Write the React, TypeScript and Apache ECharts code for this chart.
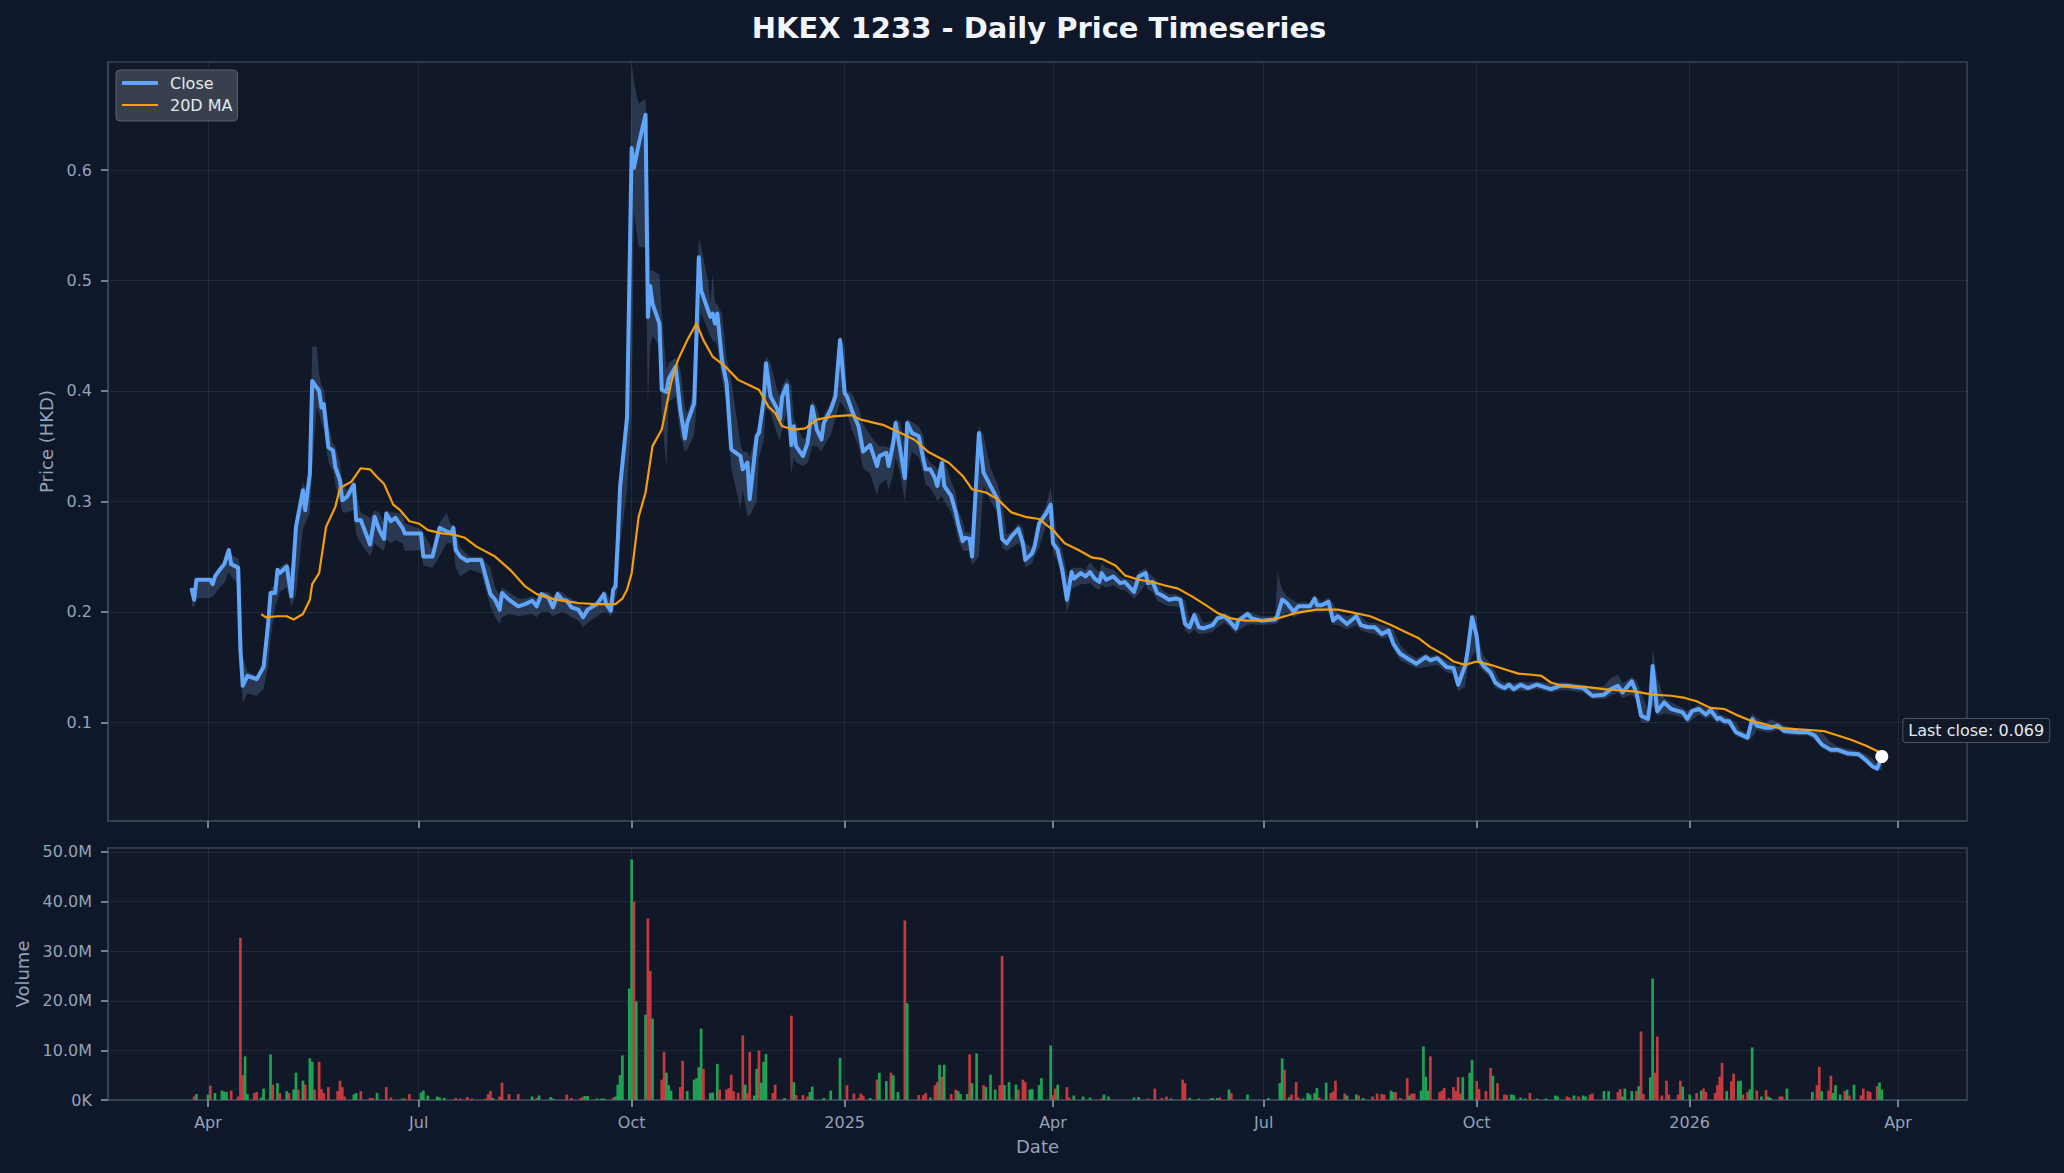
import React, { useEffect, useRef } from 'react';
import * as echarts from 'echarts';

// ---------- data ----------
// rows: [date, close, low, high]
type Row = [string, number, number, number];

const prices2024a: Row[] = [
  ['2024-03-25', 0.220, 0.206, 0.222], ['2024-03-26', 0.211, 0.204, 0.222], ['2024-03-27', 0.229, 0.212, 0.230],
  ['2024-04-02', 0.229, 0.213, 0.230], ['2024-04-03', 0.225, 0.214, 0.229], ['2024-04-04', 0.232, 0.216, 0.233],
  ['2024-04-06', 0.238, 0.222, 0.239], ['2024-04-08', 0.243, 0.226, 0.245], ['2024-04-10', 0.256, 0.236, 0.258],
  ['2024-04-11', 0.243, 0.232, 0.252], ['2024-04-14', 0.240, 0.225, 0.248], ['2024-04-15', 0.166, 0.150, 0.240],
  ['2024-04-16', 0.133, 0.118, 0.160], ['2024-04-18', 0.142, 0.126, 0.146], ['2024-04-22', 0.139, 0.124, 0.142],
  ['2024-04-25', 0.150, 0.130, 0.155], ['2024-04-27', 0.190, 0.150, 0.195], ['2024-04-28', 0.217, 0.175, 0.220],
  ['2024-04-30', 0.217, 0.205, 0.225], ['2024-05-01', 0.238, 0.210, 0.240], ['2024-05-02', 0.235, 0.218, 0.240],
  ['2024-05-05', 0.241, 0.222, 0.245], ['2024-05-07', 0.214, 0.205, 0.238], ['2024-05-09', 0.277, 0.215, 0.280],
  ['2024-05-12', 0.310, 0.275, 0.318], ['2024-05-13', 0.292, 0.280, 0.312], ['2024-05-15', 0.325, 0.290, 0.330],
  ['2024-05-16', 0.409, 0.330, 0.440], ['2024-05-18', 0.403, 0.385, 0.440], ['2024-05-19', 0.400, 0.380, 0.415],
  ['2024-05-20', 0.385, 0.370, 0.405], ['2024-05-21', 0.388, 0.365, 0.402], ['2024-05-23', 0.349, 0.335, 0.370],
  ['2024-05-25', 0.346, 0.328, 0.352], ['2024-05-26', 0.331, 0.315, 0.350], ['2024-05-28', 0.319, 0.300, 0.335],
  ['2024-05-29', 0.301, 0.290, 0.318], ['2024-05-31', 0.304, 0.290, 0.310], ['2024-06-03', 0.315, 0.292, 0.320],
  ['2024-06-04', 0.283, 0.270, 0.308], ['2024-06-06', 0.283, 0.262, 0.290], ['2024-06-10', 0.261, 0.250, 0.285],
  ['2024-06-12', 0.286, 0.262, 0.292], ['2024-06-14', 0.274, 0.258, 0.290], ['2024-06-16', 0.266, 0.255, 0.280],
  ['2024-06-17', 0.289, 0.265, 0.292], ['2024-06-19', 0.282, 0.262, 0.290], ['2024-06-21', 0.285, 0.265, 0.290],
  ['2024-06-24', 0.276, 0.262, 0.288], ['2024-06-25', 0.271, 0.255, 0.280], ['2024-07-02', 0.271, 0.256, 0.275],
  ['2024-07-03', 0.250, 0.242, 0.272], ['2024-07-07', 0.250, 0.240, 0.256], ['2024-07-10', 0.276, 0.250, 0.280],
  ['2024-07-13', 0.273, 0.262, 0.290], ['2024-07-15', 0.271, 0.262, 0.278], ['2024-07-16', 0.276, 0.258, 0.280],
  ['2024-07-17', 0.256, 0.240, 0.272], ['2024-07-19', 0.250, 0.232, 0.258], ['2024-07-22', 0.246, 0.236, 0.252],
  ['2024-07-23', 0.247, 0.238, 0.250], ['2024-07-28', 0.247, 0.235, 0.250], ['2024-08-01', 0.216, 0.205, 0.240],
  ['2024-08-03', 0.211, 0.195, 0.222], ['2024-08-05', 0.202, 0.189, 0.215], ['2024-08-06', 0.217, 0.195, 0.222],
  ['2024-08-09', 0.211, 0.198, 0.218], ['2024-08-13', 0.205, 0.196, 0.212], ['2024-08-16', 0.207, 0.197, 0.212],
  ['2024-08-19', 0.210, 0.198, 0.214], ['2024-08-21', 0.205, 0.195, 0.212], ['2024-08-23', 0.216, 0.200, 0.218],
  ['2024-08-26', 0.213, 0.200, 0.218], ['2024-08-28', 0.204, 0.196, 0.214], ['2024-08-30', 0.216, 0.198, 0.219],
  ['2024-09-01', 0.211, 0.200, 0.218], ['2024-09-03', 0.210, 0.198, 0.214], ['2024-09-05', 0.204, 0.195, 0.212],
  ['2024-09-08', 0.202, 0.192, 0.208], ['2024-09-10', 0.195, 0.186, 0.205], ['2024-09-12', 0.202, 0.190, 0.205],
  ['2024-09-16', 0.207, 0.196, 0.210], ['2024-09-19', 0.216, 0.200, 0.219], ['2024-09-20', 0.207, 0.200, 0.218],
  ['2024-09-22', 0.201, 0.196, 0.210], ['2024-09-23', 0.220, 0.200, 0.224], ['2024-09-24', 0.223, 0.212, 0.228],
  ['2024-09-25', 0.265, 0.220, 0.270], ['2024-09-26', 0.313, 0.260, 0.320], ['2024-09-29', 0.376, 0.310, 0.390],
];

const prices2024b: Row[] = [
  ['2024-10-01', 0.620, 0.380, 0.698], ['2024-10-02', 0.602, 0.560, 0.680], ['2024-10-04', 0.623, 0.530, 0.660],
  ['2024-10-07', 0.650, 0.530, 0.665], ['2024-10-08', 0.467, 0.386, 0.600], ['2024-10-09', 0.495, 0.440, 0.509],
  ['2024-10-10', 0.479, 0.450, 0.509], ['2024-10-13', 0.461, 0.440, 0.505], ['2024-10-14', 0.401, 0.380, 0.470],
  ['2024-10-16', 0.399, 0.330, 0.420], ['2024-10-17', 0.411, 0.390, 0.425], ['2024-10-20', 0.422, 0.395, 0.430],
  ['2024-10-22', 0.383, 0.360, 0.420], ['2024-10-24', 0.357, 0.345, 0.385], ['2024-10-25', 0.371, 0.347, 0.380],
  ['2024-10-28', 0.389, 0.360, 0.400], ['2024-10-29', 0.452, 0.385, 0.460], ['2024-10-30', 0.521, 0.450, 0.539],
  ['2024-10-31', 0.491, 0.470, 0.530], ['2024-11-03', 0.473, 0.455, 0.500], ['2024-11-04', 0.467, 0.450, 0.480],
  ['2024-11-05', 0.470, 0.445, 0.506], ['2024-11-06', 0.461, 0.445, 0.480], ['2024-11-07', 0.470, 0.440, 0.478],
  ['2024-11-09', 0.428, 0.410, 0.470], ['2024-11-11', 0.407, 0.390, 0.430], ['2024-11-13', 0.347, 0.330, 0.410],
  ['2024-11-17', 0.341, 0.293, 0.352], ['2024-11-18', 0.329, 0.310, 0.345], ['2024-11-20', 0.335, 0.287, 0.345],
  ['2024-11-21', 0.302, 0.287, 0.340], ['2024-11-24', 0.359, 0.300, 0.365], ['2024-11-25', 0.362, 0.340, 0.370],
  ['2024-11-27', 0.392, 0.355, 0.400], ['2024-11-28', 0.425, 0.385, 0.432], ['2024-11-30', 0.395, 0.380, 0.425],
  ['2024-12-03', 0.383, 0.360, 0.400], ['2024-12-04', 0.374, 0.355, 0.395], ['2024-12-05', 0.395, 0.365, 0.405],
  ['2024-12-07', 0.405, 0.380, 0.412], ['2024-12-09', 0.351, 0.325, 0.405], ['2024-12-10', 0.368, 0.340, 0.375],
  ['2024-12-11', 0.350, 0.335, 0.370], ['2024-12-14', 0.341, 0.332, 0.356], ['2024-12-16', 0.353, 0.335, 0.360],
  ['2024-12-18', 0.386, 0.350, 0.392], ['2024-12-20', 0.365, 0.350, 0.385], ['2024-12-22', 0.356, 0.345, 0.370],
  ['2024-12-23', 0.371, 0.350, 0.378], ['2024-12-26', 0.383, 0.360, 0.390], ['2024-12-28', 0.395, 0.375, 0.405],
  ['2024-12-30', 0.446, 0.390, 0.450], ['2025-01-01', 0.398, 0.385, 0.440], ['2025-01-02', 0.395, 0.380, 0.400],
  ['2025-01-04', 0.383, 0.365, 0.398], ['2025-01-07', 0.368, 0.350, 0.385], ['2025-01-09', 0.345, 0.330, 0.370],
  ['2025-01-12', 0.351, 0.325, 0.360], ['2025-01-15', 0.332, 0.305, 0.352], ['2025-01-16', 0.341, 0.315, 0.350],
  ['2025-01-19', 0.344, 0.320, 0.350], ['2025-01-20', 0.332, 0.310, 0.348], ['2025-01-22', 0.353, 0.325, 0.360],
  ['2025-01-23', 0.371, 0.340, 0.375], ['2025-01-25', 0.347, 0.325, 0.372], ['2025-01-27', 0.321, 0.300, 0.350],
  ['2025-01-28', 0.371, 0.320, 0.375], ['2025-01-30', 0.362, 0.345, 0.372], ['2025-02-02', 0.359, 0.340, 0.368],
  ['2025-02-04', 0.338, 0.325, 0.360], ['2025-02-05', 0.329, 0.315, 0.342], ['2025-02-07', 0.329, 0.312, 0.335],
  ['2025-02-09', 0.321, 0.305, 0.332], ['2025-02-10', 0.314, 0.300, 0.328], ['2025-02-12', 0.335, 0.305, 0.340],
  ['2025-02-13', 0.314, 0.300, 0.338], ['2025-02-16', 0.305, 0.290, 0.318], ['2025-02-18', 0.290, 0.275, 0.308],
  ['2025-02-19', 0.280, 0.265, 0.292], ['2025-02-21', 0.264, 0.256, 0.282], ['2025-02-22', 0.267, 0.255, 0.272],
  ['2025-02-24', 0.266, 0.255, 0.272], ['2025-02-25', 0.250, 0.242, 0.268], ['2025-02-28', 0.362, 0.250, 0.368],
  ['2025-03-02', 0.326, 0.315, 0.360], ['2025-03-05', 0.314, 0.300, 0.330], ['2025-03-08', 0.302, 0.290, 0.316],
  ['2025-03-10', 0.266, 0.258, 0.300],
];

const prices2025a: Row[] = [
  ['2025-03-12', 0.262, 0.255, 0.270], ['2025-03-14', 0.268, 0.258, 0.272], ['2025-03-17', 0.275, 0.262, 0.280],
  ['2025-03-19', 0.262, 0.255, 0.276], ['2025-03-20', 0.247, 0.240, 0.262], ['2025-03-23', 0.253, 0.244, 0.258],
  ['2025-03-24', 0.259, 0.250, 0.264], ['2025-03-26', 0.280, 0.258, 0.284], ['2025-03-29', 0.289, 0.278, 0.296],
  ['2025-03-31', 0.297, 0.285, 0.313], ['2025-04-01', 0.262, 0.255, 0.295], ['2025-04-03', 0.256, 0.245, 0.265],
  ['2025-04-05', 0.238, 0.228, 0.256], ['2025-04-07', 0.211, 0.200, 0.235], ['2025-04-08', 0.223, 0.205, 0.228],
  ['2025-04-09', 0.236, 0.220, 0.240], ['2025-04-10', 0.230, 0.222, 0.240], ['2025-04-13', 0.235, 0.225, 0.240],
  ['2025-04-15', 0.232, 0.225, 0.238], ['2025-04-17', 0.236, 0.226, 0.245], ['2025-04-19', 0.230, 0.222, 0.240],
  ['2025-04-21', 0.227, 0.220, 0.236], ['2025-04-22', 0.235, 0.224, 0.244], ['2025-04-24', 0.229, 0.222, 0.240],
  ['2025-04-27', 0.232, 0.224, 0.238], ['2025-04-30', 0.226, 0.220, 0.232], ['2025-05-02', 0.227, 0.220, 0.230],
  ['2025-05-06', 0.218, 0.212, 0.228], ['2025-05-08', 0.232, 0.216, 0.236], ['2025-05-11', 0.235, 0.225, 0.240],
  ['2025-05-12', 0.226, 0.220, 0.236], ['2025-05-14', 0.227, 0.218, 0.232], ['2025-05-16', 0.217, 0.210, 0.228],
  ['2025-05-18', 0.215, 0.208, 0.220], ['2025-05-21', 0.211, 0.205, 0.216], ['2025-05-24', 0.212, 0.205, 0.216],
  ['2025-05-26', 0.211, 0.204, 0.214], ['2025-05-28', 0.189, 0.183, 0.210], ['2025-05-30', 0.186, 0.180, 0.192],
  ['2025-06-01', 0.197, 0.184, 0.200], ['2025-06-03', 0.186, 0.180, 0.198], ['2025-06-05', 0.185, 0.180, 0.190],
  ['2025-06-09', 0.188, 0.182, 0.192], ['2025-06-11', 0.194, 0.186, 0.197], ['2025-06-14', 0.196, 0.190, 0.199],
  ['2025-06-16', 0.192, 0.187, 0.197], ['2025-06-19', 0.185, 0.180, 0.193], ['2025-06-20', 0.192, 0.183, 0.195],
  ['2025-06-24', 0.198, 0.188, 0.201], ['2025-06-26', 0.194, 0.189, 0.199], ['2025-06-30', 0.192, 0.188, 0.196],
  ['2025-07-06', 0.193, 0.189, 0.196], ['2025-07-07', 0.197, 0.190, 0.236], ['2025-07-09', 0.211, 0.195, 0.220],
  ['2025-07-11', 0.208, 0.200, 0.214], ['2025-07-14', 0.200, 0.195, 0.210], ['2025-07-16', 0.205, 0.197, 0.208],
  ['2025-07-18', 0.205, 0.199, 0.209], ['2025-07-21', 0.205, 0.200, 0.208], ['2025-07-23', 0.212, 0.202, 0.215],
  ['2025-07-24', 0.206, 0.200, 0.213], ['2025-07-26', 0.206, 0.200, 0.209], ['2025-07-29', 0.209, 0.202, 0.213],
  ['2025-07-31', 0.192, 0.188, 0.208], ['2025-08-02', 0.196, 0.188, 0.199], ['2025-08-06', 0.189, 0.184, 0.196],
  ['2025-08-10', 0.196, 0.188, 0.199], ['2025-08-12', 0.188, 0.183, 0.196], ['2025-08-15', 0.186, 0.181, 0.190],
  ['2025-08-18', 0.186, 0.180, 0.190], ['2025-08-21', 0.180, 0.176, 0.188], ['2025-08-24', 0.183, 0.177, 0.186],
  ['2025-08-26', 0.171, 0.166, 0.184], ['2025-08-29', 0.162, 0.156, 0.170], ['2025-09-01', 0.158, 0.153, 0.163],
  ['2025-09-05', 0.153, 0.149, 0.158], ['2025-09-09', 0.159, 0.150, 0.162], ['2025-09-11', 0.156, 0.151, 0.160],
  ['2025-09-14', 0.158, 0.152, 0.161], ['2025-09-18', 0.150, 0.145, 0.156], ['2025-09-21', 0.149, 0.144, 0.153],
  ['2025-09-23', 0.134, 0.128, 0.150], ['2025-09-26', 0.151, 0.132, 0.155], ['2025-09-27', 0.163, 0.148, 0.167],
  ['2025-09-29', 0.195, 0.160, 0.198],
];

const prices2025b: Row[] = [
  ['2025-10-01', 0.178, 0.165, 0.196], ['2025-10-02', 0.157, 0.150, 0.175], ['2025-10-04', 0.151, 0.146, 0.160],
  ['2025-10-07', 0.145, 0.140, 0.153], ['2025-10-09', 0.136, 0.131, 0.146], ['2025-10-11', 0.133, 0.129, 0.138],
  ['2025-10-13', 0.131, 0.128, 0.136], ['2025-10-15', 0.134, 0.129, 0.137], ['2025-10-17', 0.130, 0.127, 0.135],
  ['2025-10-20', 0.134, 0.129, 0.137], ['2025-10-23', 0.131, 0.128, 0.136], ['2025-10-27', 0.134, 0.130, 0.137],
  ['2025-11-02', 0.130, 0.127, 0.135], ['2025-11-06', 0.133, 0.129, 0.136], ['2025-11-09', 0.133, 0.129, 0.136],
  ['2025-11-16', 0.131, 0.127, 0.134], ['2025-11-20', 0.124, 0.121, 0.131], ['2025-11-25', 0.125, 0.121, 0.133],
  ['2025-11-28', 0.130, 0.124, 0.140], ['2025-12-01', 0.133, 0.127, 0.143], ['2025-12-03', 0.127, 0.122, 0.135],
  ['2025-12-07', 0.137, 0.125, 0.141], ['2025-12-09', 0.127, 0.120, 0.138], ['2025-12-11', 0.106, 0.100, 0.128],
  ['2025-12-14', 0.103, 0.099, 0.110], ['2025-12-15', 0.119, 0.102, 0.122], ['2025-12-16', 0.151, 0.115, 0.167],
  ['2025-12-18', 0.110, 0.106, 0.140], ['2025-12-21', 0.118, 0.108, 0.122], ['2025-12-24', 0.112, 0.107, 0.118],
  ['2025-12-29', 0.109, 0.104, 0.113], ['2025-12-31', 0.103, 0.099, 0.110], ['2026-01-02', 0.110, 0.102, 0.113],
  ['2026-01-05', 0.112, 0.107, 0.116], ['2026-01-08', 0.107, 0.103, 0.113], ['2026-01-10', 0.111, 0.105, 0.114],
  ['2026-01-13', 0.103, 0.099, 0.111], ['2026-01-14', 0.104, 0.100, 0.107], ['2026-01-16', 0.101, 0.097, 0.106],
  ['2026-01-18', 0.101, 0.097, 0.104], ['2026-01-21', 0.091, 0.087, 0.100], ['2026-01-23', 0.089, 0.086, 0.093],
  ['2026-01-26', 0.086, 0.083, 0.090], ['2026-01-28', 0.103, 0.086, 0.108], ['2026-01-30', 0.097, 0.093, 0.104],
  ['2026-02-03', 0.095, 0.091, 0.099], ['2026-02-05', 0.095, 0.091, 0.103], ['2026-02-08', 0.097, 0.093, 0.100],
  ['2026-02-11', 0.092, 0.089, 0.097], ['2026-02-17', 0.091, 0.088, 0.094], ['2026-02-21', 0.091, 0.088, 0.094],
  ['2026-02-24', 0.088, 0.084, 0.092], ['2026-02-27', 0.080, 0.077, 0.091], ['2026-03-03', 0.075, 0.072, 0.082],
  ['2026-03-06', 0.075, 0.072, 0.078], ['2026-03-10', 0.072, 0.069, 0.076], ['2026-03-15', 0.071, 0.068, 0.074],
  ['2026-03-18', 0.066, 0.063, 0.071], ['2026-03-21', 0.060, 0.058, 0.067], ['2026-03-23', 0.058, 0.056, 0.062],
  ['2026-03-25', 0.069, 0.057, 0.071],
];

// 20-day moving average as drawn
const ma20: [string, number][] = [
  ['2024-04-24', 0.198], ['2024-04-26', 0.195], ['2024-05-01', 0.196], ['2024-05-05', 0.196], ['2024-05-08', 0.193],
  ['2024-05-12', 0.198], ['2024-05-15', 0.211], ['2024-05-16', 0.225], ['2024-05-19', 0.235], ['2024-05-22', 0.277],
  ['2024-05-26', 0.295], ['2024-05-28', 0.312], ['2024-06-02', 0.318], ['2024-06-06', 0.330], ['2024-06-10', 0.329],
  ['2024-06-13', 0.322], ['2024-06-16', 0.316], ['2024-06-20', 0.297], ['2024-06-23', 0.292], ['2024-06-27', 0.282],
  ['2024-07-01', 0.280], ['2024-07-05', 0.274], ['2024-07-11', 0.271], ['2024-07-16', 0.270], ['2024-07-21', 0.267],
  ['2024-07-26', 0.259], ['2024-08-03', 0.250], ['2024-08-10', 0.237], ['2024-08-16', 0.223], ['2024-08-21', 0.216],
  ['2024-08-29', 0.211], ['2024-09-08', 0.208], ['2024-09-15', 0.207], ['2024-09-24', 0.207], ['2024-09-27', 0.212],
  ['2024-09-29', 0.220], ['2024-10-01', 0.235], ['2024-10-04', 0.286], ['2024-10-07', 0.308], ['2024-10-10', 0.350],
  ['2024-10-14', 0.365], ['2024-10-18', 0.407], ['2024-10-21', 0.428], ['2024-10-25', 0.446], ['2024-10-29', 0.461],
  ['2024-11-01', 0.446], ['2024-11-05', 0.431], ['2024-11-10', 0.423], ['2024-11-16', 0.410], ['2024-11-22', 0.404],
  ['2024-11-25', 0.401], ['2024-11-29', 0.386], ['2024-12-02', 0.380], ['2024-12-05', 0.368], ['2024-12-10', 0.365],
  ['2024-12-15', 0.366], ['2024-12-20', 0.374], ['2024-12-27', 0.377], ['2025-01-04', 0.378], ['2025-01-08', 0.374],
  ['2025-01-18', 0.369], ['2025-01-24', 0.363], ['2025-01-31', 0.356], ['2025-02-06', 0.345], ['2025-02-15', 0.335],
  ['2025-02-21', 0.323], ['2025-02-25', 0.311], ['2025-03-03', 0.308], ['2025-03-08', 0.302], ['2025-03-14', 0.290],
  ['2025-03-20', 0.286], ['2025-03-26', 0.284], ['2025-04-01', 0.274], ['2025-04-06', 0.262], ['2025-04-12', 0.256],
  ['2025-04-18', 0.249], ['2025-04-22', 0.248], ['2025-04-28', 0.242], ['2025-05-02', 0.233], ['2025-05-08', 0.229],
  ['2025-05-14', 0.227], ['2025-05-19', 0.224], ['2025-05-25', 0.221], ['2025-05-31', 0.214], ['2025-06-06', 0.206],
  ['2025-06-11', 0.199], ['2025-06-17', 0.194], ['2025-06-23', 0.192], ['2025-07-01', 0.192], ['2025-07-07', 0.194],
  ['2025-07-15', 0.199], ['2025-07-24', 0.202], ['2025-08-02', 0.202], ['2025-08-07', 0.200], ['2025-08-16', 0.196],
  ['2025-08-25', 0.188], ['2025-08-31', 0.182], ['2025-09-06', 0.176], ['2025-09-11', 0.168], ['2025-09-17', 0.161],
  ['2025-09-21', 0.155], ['2025-09-26', 0.152], ['2025-10-01', 0.155], ['2025-10-07', 0.152], ['2025-10-13', 0.148],
  ['2025-10-19', 0.144], ['2025-10-25', 0.143], ['2025-10-29', 0.142], ['2025-11-02', 0.136], ['2025-11-07', 0.133],
  ['2025-11-17', 0.132], ['2025-11-25', 0.130], ['2025-12-01', 0.129], ['2025-12-08', 0.128], ['2025-12-16', 0.125],
  ['2025-12-24', 0.124], ['2025-12-30', 0.122], ['2026-01-04', 0.119], ['2026-01-10', 0.113], ['2026-01-16', 0.112],
  ['2026-01-22', 0.106], ['2026-01-28', 0.101], ['2026-02-03', 0.098], ['2026-02-08', 0.095], ['2026-02-14', 0.094],
  ['2026-02-22', 0.093], ['2026-02-28', 0.092], ['2026-03-06', 0.088], ['2026-03-12', 0.084], ['2026-03-18', 0.079],
  ['2026-03-25', 0.072],
];

// volume rows: [date, volume in millions, direction (1 up / -1 down)]
type VRow = [string, number, number];
const volumes2024: VRow[] = [
  ['2024-03-26', 0.7, -1], ['2024-03-27', 1.2, 1], ['2024-04-01', 1.1, 1], ['2024-04-02', 2.9, -1], ['2024-04-04', 1.4, 1],
  ['2024-04-07', 1.9, 1], ['2024-04-08', 1.7, 1], ['2024-04-09', 1.6, 1], ['2024-04-11', 1.9, -1], ['2024-04-14', 0.7, -1],
  ['2024-04-15', 32.7, -1], ['2024-04-16', 5.0, -1], ['2024-04-17', 8.8, 1], ['2024-04-18', 1.2, 1], ['2024-04-21', 1.4, -1],
  ['2024-04-22', 1.6, -1], ['2024-04-24', 0.5, 1], ['2024-04-25', 2.3, 1], ['2024-04-28', 9.2, 1], ['2024-04-29', 3.1, -1],
  ['2024-05-01', 3.4, 1], ['2024-05-02', 1.4, -1], ['2024-05-05', 1.8, 1], ['2024-05-06', 1.4, -1], ['2024-05-08', 2.1, 1],
  ['2024-05-09', 5.5, 1], ['2024-05-10', 2.1, -1], ['2024-05-12', 3.9, 1], ['2024-05-13', 3.1, -1], ['2024-05-15', 8.4, 1],
  ['2024-05-16', 7.7, 1], ['2024-05-17', 2.1, -1], ['2024-05-19', 7.7, -1], ['2024-05-20', 2.2, -1], ['2024-05-21', 1.4, -1],
  ['2024-05-23', 2.6, -1], ['2024-05-27', 1.8, -1], ['2024-05-28', 3.9, -1], ['2024-05-29', 2.6, -1], ['2024-05-30', 0.7, -1],
  ['2024-06-03', 1.1, 1], ['2024-06-04', 1.4, 1], ['2024-06-06', 1.8, -1], ['2024-06-10', 0.4, -1], ['2024-06-11', 0.4, -1],
  ['2024-06-13', 1.4, 1], ['2024-06-17', 2.6, -1], ['2024-06-19', 0.5, -1], ['2024-06-24', 0.3, 1], ['2024-06-25', 0.3, -1],
  ['2024-06-27', 1.2, -1], ['2024-07-02', 1.5, 1], ['2024-07-03', 1.9, 1], ['2024-07-05', 0.9, 1], ['2024-07-09', 0.7, 1],
  ['2024-07-10', 0.5, 1], ['2024-07-12', 0.4, 1], ['2024-07-17', 0.4, -1], ['2024-07-19', 0.3, -1], ['2024-07-22', 0.6, -1],
  ['2024-07-24', 0.3, -1], ['2024-07-30', 0.3, -1], ['2024-07-31', 1.2, -1], ['2024-08-01', 1.8, -1], ['2024-08-02', 0.4, 1],
  ['2024-08-05', 0.7, -1], ['2024-08-06', 3.5, -1], ['2024-08-09', 1.2, -1], ['2024-08-13', 1.2, -1], ['2024-08-19', 0.7, 1],
  ['2024-08-21', 0.4, -1], ['2024-08-22', 0.9, 1], ['2024-08-27', 0.6, 1], ['2024-08-28', 0.3, 1], ['2024-09-03', 1.1, -1],
  ['2024-09-05', 0.4, -1], ['2024-09-09', 0.4, -1], ['2024-09-10', 0.7, -1], ['2024-09-11', 0.8, 1], ['2024-09-12', 0.8, 1],
  ['2024-09-16', 0.3, 1], ['2024-09-18', 0.3, 1], ['2024-09-19', 0.3, 1], ['2024-09-23', 0.5, -1], ['2024-09-24', 0.7, 1],
  ['2024-09-25', 3.1, 1], ['2024-09-26', 5.0, 1], ['2024-09-27', 9.0, 1], ['2024-09-30', 22.5, 1], ['2024-10-01', 48.5, 1],
  ['2024-10-02', 40.0, -1], ['2024-10-03', 19.9, 1], ['2024-10-07', 17.2, 1], ['2024-10-08', 36.6, -1], ['2024-10-09', 26.0, -1],
  ['2024-10-10', 16.4, 1], ['2024-10-14', 4.1, -1], ['2024-10-15', 9.7, -1], ['2024-10-16', 5.5, 1], ['2024-10-17', 3.0, 1],
  ['2024-10-18', 1.9, 1], ['2024-10-22', 2.6, -1], ['2024-10-23', 7.9, -1], ['2024-10-25', 1.8, 1], ['2024-10-28', 4.1, 1],
  ['2024-10-29', 4.4, 1], ['2024-10-30', 6.6, 1], ['2024-10-31', 14.4, 1], ['2024-11-01', 6.3, -1], ['2024-11-04', 1.4, 1],
  ['2024-11-05', 1.5, 1], ['2024-11-07', 7.3, 1], ['2024-11-08', 2.1, -1], ['2024-11-11', 2.1, -1], ['2024-11-12', 2.4, -1],
  ['2024-11-13', 5.1, -1], ['2024-11-14', 1.8, -1], ['2024-11-16', 1.4, -1], ['2024-11-18', 13.0, -1], ['2024-11-19', 3.1, 1],
  ['2024-11-20', 1.4, -1], ['2024-11-21', 9.7, -1], ['2024-11-23', 0.9, 1], ['2024-11-24', 6.3, 1], ['2024-11-25', 10.0, -1],
  ['2024-11-26', 3.5, 1], ['2024-11-27', 7.7, 1], ['2024-11-28', 9.3, 1], ['2024-12-01', 1.4, -1], ['2024-12-02', 3.1, -1],
  ['2024-12-06', 0.4, 1], ['2024-12-09', 17.0, -1], ['2024-12-10', 3.6, 1], ['2024-12-11', 1.0, -1], ['2024-12-14', 1.0, -1],
  ['2024-12-16', 0.7, -1], ['2024-12-17', 1.6, 1], ['2024-12-18', 2.7, 1], ['2024-12-23', 0.4, 1], ['2024-12-26', 1.9, 1],
  ['2024-12-30', 8.5, 1],
];

const volumes2025: VRow[] = [
  ['2025-01-02', 3.0, -1], ['2025-01-05', 1.3, -1], ['2025-01-07', 0.4, -1], ['2025-01-08', 1.3, -1], ['2025-01-09', 0.9, -1],
  ['2025-01-12', 0.4, 1], ['2025-01-15', 4.1, -1], ['2025-01-16', 5.5, 1], ['2025-01-19', 3.8, 1], ['2025-01-21', 5.5, -1],
  ['2025-01-22', 5.0, 1], ['2025-01-24', 1.6, 1], ['2025-01-27', 36.2, -1], ['2025-01-28', 19.5, 1], ['2025-02-02', 1.0, -1],
  ['2025-02-04', 1.0, -1], ['2025-02-05', 1.4, -1], ['2025-02-07', 0.5, 1], ['2025-02-09', 3.0, -1], ['2025-02-10', 3.6, -1],
  ['2025-02-11', 7.1, 1], ['2025-02-12', 4.7, -1], ['2025-02-13', 7.1, 1], ['2025-02-16', 1.2, -1], ['2025-02-18', 2.1, -1],
  ['2025-02-19', 1.8, 1], ['2025-02-20', 1.2, 1], ['2025-02-23', 1.2, 1], ['2025-02-24', 9.2, -1], ['2025-02-25', 3.4, 1],
  ['2025-02-27', 9.4, 1], ['2025-03-02', 3.0, -1], ['2025-03-03', 2.6, 1], ['2025-03-05', 5.1, 1], ['2025-03-07', 2.1, 1],
  ['2025-03-09', 3.0, -1], ['2025-03-10', 29.0, -1], ['2025-03-11', 3.0, 1], ['2025-03-13', 3.6, 1], ['2025-03-16', 3.1, 1],
  ['2025-03-17', 2.1, -1], ['2025-03-19', 4.1, -1], ['2025-03-20', 3.6, -1], ['2025-03-22', 2.1, 1], ['2025-03-23', 2.2, 1],
  ['2025-03-26', 3.0, 1], ['2025-03-27', 4.4, 1], ['2025-03-31', 11.0, 1], ['2025-04-01', 1.0, -1], ['2025-04-02', 2.3, -1],
  ['2025-04-03', 3.1, 1], ['2025-04-07', 2.6, -1], ['2025-04-08', 0.5, -1], ['2025-04-10', 0.9, 1], ['2025-04-14', 0.7, 1],
  ['2025-04-17', 0.5, 1], ['2025-04-22', 0.3, -1], ['2025-04-23', 1.1, 1], ['2025-04-25', 0.7, 1], ['2025-05-06', 0.5, 1],
  ['2025-05-08', 0.6, 1], ['2025-05-12', 0.3, -1], ['2025-05-15', 2.3, -1], ['2025-05-18', 0.4, -1], ['2025-05-20', 0.7, -1],
  ['2025-05-22', 0.3, 1], ['2025-05-27', 4.1, -1], ['2025-05-28', 3.4, -1], ['2025-05-30', 0.4, 1], ['2025-06-03', 0.3, 1],
  ['2025-06-08', 0.3, 1], ['2025-06-09', 0.4, 1], ['2025-06-11', 0.4, 1], ['2025-06-12', 0.5, -1], ['2025-06-16', 2.1, 1],
  ['2025-06-17', 1.4, -1], ['2025-06-24', 1.1, 1], ['2025-07-03', 0.4, 1], ['2025-07-08', 3.4, 1], ['2025-07-09', 8.4, 1],
  ['2025-07-10', 6.1, -1], ['2025-07-12', 0.5, 1], ['2025-07-13', 1.1, -1], ['2025-07-15', 3.6, -1], ['2025-07-16', 0.5, -1],
  ['2025-07-18', 0.3, 1], ['2025-07-20', 1.4, 1], ['2025-07-21', 1.1, 1], ['2025-07-23', 1.4, 1], ['2025-07-24', 2.4, 1],
  ['2025-07-25', 0.5, -1], ['2025-07-28', 3.5, 1], ['2025-07-30', 1.4, -1], ['2025-07-31', 1.7, -1], ['2025-08-01', 3.9, -1],
  ['2025-08-05', 1.3, -1], ['2025-08-06', 0.9, 1], ['2025-08-10', 1.1, 1], ['2025-08-11', 0.9, -1], ['2025-08-13', 0.4, 1],
  ['2025-08-17', 0.7, -1], ['2025-08-19', 1.3, -1], ['2025-08-21', 1.2, -1], ['2025-08-22', 1.1, -1], ['2025-08-25', 1.9, 1],
  ['2025-08-26', 1.6, 1], ['2025-08-27', 1.6, -1], ['2025-08-29', 0.4, -1], ['2025-09-01', 4.4, -1], ['2025-09-02', 0.9, 1],
  ['2025-09-03', 1.3, -1], ['2025-09-04', 1.3, -1], ['2025-09-07', 1.9, 1], ['2025-09-08', 10.8, 1], ['2025-09-09', 4.7, 1],
  ['2025-09-10', 1.9, 1], ['2025-09-11', 8.8, -1], ['2025-09-15', 1.6, -1], ['2025-09-16', 1.9, -1], ['2025-09-17', 2.4, -1],
  ['2025-09-19', 0.4, -1], ['2025-09-21', 2.6, -1], ['2025-09-22', 1.8, -1], ['2025-09-23', 4.6, -1], ['2025-09-24', 1.3, -1],
  ['2025-09-25', 4.6, 1], ['2025-09-28', 5.5, 1], ['2025-09-29', 8.1, 1], ['2025-10-01', 3.8, -1], ['2025-10-02', 2.2, -1],
  ['2025-10-05', 1.8, -1], ['2025-10-07', 6.5, -1], ['2025-10-08', 4.9, 1], ['2025-10-10', 3.4, -1], ['2025-10-13', 1.1, -1],
  ['2025-10-14', 1.0, -1], ['2025-10-16', 1.1, 1], ['2025-10-17', 1.0, 1], ['2025-10-20', 0.5, 1], ['2025-10-22', 0.3, 1],
  ['2025-10-24', 1.4, -1], ['2025-10-27', 0.3, 1], ['2025-10-31', 0.3, 1], ['2025-11-04', 0.9, 1], ['2025-11-05', 0.7, 1],
  ['2025-11-09', 0.7, -1], ['2025-11-10', 0.5, -1], ['2025-11-12', 0.9, 1], ['2025-11-14', 0.7, -1], ['2025-11-16', 0.9, 1],
  ['2025-11-17', 0.7, 1], ['2025-11-19', 1.1, -1], ['2025-11-20', 1.3, -1], ['2025-11-25', 1.8, 1], ['2025-11-27', 1.8, 1],
  ['2025-12-01', 1.6, -1], ['2025-12-02', 2.2, -1], ['2025-12-03', 0.7, 1], ['2025-12-04', 2.3, 1], ['2025-12-07', 1.8, 1],
  ['2025-12-09', 1.8, -1], ['2025-12-10', 2.8, 1], ['2025-12-11', 13.8, -1], ['2025-12-12', 1.2, -1], ['2025-12-15', 4.6, 1],
  ['2025-12-16', 24.5, 1], ['2025-12-17', 5.5, -1], ['2025-12-18', 12.8, -1], ['2025-12-20', 0.9, -1], ['2025-12-22', 3.9, -1],
  ['2025-12-23', 1.1, -1], ['2025-12-27', 1.1, -1], ['2025-12-28', 3.9, -1], ['2025-12-29', 2.7, 1],
];

const volumes2026: VRow[] = [
  ['2026-01-01', 1.1, 1], ['2026-01-04', 1.4, -1], ['2026-01-06', 1.9, 1], ['2026-01-07', 2.3, -1], ['2026-01-08', 1.6, -1],
  ['2026-01-12', 1.4, -1], ['2026-01-13', 3.0, -1], ['2026-01-14', 4.7, -1], ['2026-01-15', 7.5, -1], ['2026-01-17', 1.8, 1],
  ['2026-01-19', 3.8, -1], ['2026-01-20', 5.3, -1], ['2026-01-22', 3.8, 1], ['2026-01-23', 3.9, 1], ['2026-01-24', 1.1, -1],
  ['2026-01-26', 1.6, -1], ['2026-01-27', 2.1, 1], ['2026-01-28', 10.6, 1], ['2026-01-30', 1.9, -1], ['2026-02-01', 0.7, 1],
  ['2026-02-03', 2.0, -1], ['2026-02-04', 0.7, 1], ['2026-02-05', 0.4, 1], ['2026-02-09', 0.7, -1], ['2026-02-10', 0.7, -1],
  ['2026-02-12', 2.3, 1], ['2026-02-23', 1.6, 1], ['2026-02-25', 3.0, -1], ['2026-02-26', 6.7, -1], ['2026-02-27', 1.8, 1],
  ['2026-03-02', 1.9, -1], ['2026-03-03', 4.9, -1], ['2026-03-04', 1.4, 1], ['2026-03-05', 3.0, 1], ['2026-03-07', 1.1, 1],
  ['2026-03-09', 1.8, -1], ['2026-03-10', 2.1, 1], ['2026-03-11', 0.9, -1], ['2026-03-13', 3.1, 1], ['2026-03-16', 0.9, -1],
  ['2026-03-17', 2.3, -1], ['2026-03-19', 1.8, -1], ['2026-03-20', 1.6, -1], ['2026-03-23', 2.8, -1], ['2026-03-24', 3.5, 1],
  ['2026-03-25', 2.1, 1],
];

const priceTicks = [0.1, 0.2, 0.3, 0.4, 0.5, 0.6];
const volumeTicks = [0, 10, 20, 30, 40, 50];
const dateTicks = [
  '2024-04-01', '2024-07-01', '2024-10-01', '2025-01-01', '2025-04-01',
  '2025-07-01', '2025-10-01', '2026-01-01', '2026-04-01',
];
const MONTHS = ['Jan', 'Feb', 'Mar', 'Apr', 'May', 'Jun', 'Jul', 'Aug', 'Sep', 'Oct', 'Nov', 'Dec'];

const TITLE = 'HKEX 1233 - Daily Price Timeseries';
const LAST_LABEL = 'Last close: 0.069';

// ---------- styling ----------
const FONT = 'DejaVu Sans';
const FIG_BG = '#0f172a';
const AX_BG = '#111827';
const SPINE = '#3a4456';
const TICK = '#94a3b8';
const GRIDLINE = 'rgba(148,163,184,0.12)';
const BLUE = '#60a5fa';
const ORANGE = '#f59e0b';
const GREEN = '#1fa253';
const RED = '#c33b3e';

const DAY = 86400000;
const ts = (s: string) => new Date(s + 'T00:00:00').getTime();

export default function App() {
  const ref = useRef<HTMLDivElement>(null);

  useEffect(() => {
    if (!ref.current) return;
    const chart = echarts.init(ref.current, null, { renderer: 'svg' });

    const rows = [...prices2024a, ...prices2024b, ...prices2025a, ...prices2025b];
    const closeData = rows.map((r) => [ts(r[0]), r[1]]);
    // band series: value first so the stack applies to the price dimension
    const lowData = rows.map((r) => [r[2], ts(r[0])]);
    const spanData = rows.map((r) => [+(r[3] - r[2]).toFixed(4), ts(r[0])]);
    const maData = ma20.map((r) => [ts(r[0]), r[1]]);
    const vols = [...volumes2024, ...volumes2025, ...volumes2026];
    const volData = vols.map((r) => ({
      value: [ts(r[0]), r[1]],
      itemStyle: { color: r[2] > 0 ? GREEN : RED },
    }));
    const last = rows[rows.length - 1];

    const xMin = ts('2024-02-18') - 0.2 * DAY;
    const xMax = xMin + 803 * DAY;
    const tickTs = dateTicks.map(ts);

    const xCommon = {
      type: 'value' as const,
      min: xMin,
      max: xMax,
      axisLine: { show: true, lineStyle: { color: SPINE, width: 1.5 } },
      axisTick: { show: true, customValues: tickTs, length: 7, lineStyle: { color: TICK, width: 1.5 } },
      splitLine: { show: true, lineStyle: { color: GRIDLINE, width: 1 } },
    };

    const option: any = {
      animation: false,
      backgroundColor: FIG_BG,
      textStyle: { fontFamily: FONT },
      title: {
        text: TITLE,
        left: 1034,
        textAlign: 'center',
        top: 8,
        textStyle: { color: '#f1f5f9', fontSize: 29, fontWeight: 'bold', fontFamily: FONT },
      },
      legend: {
        data: [
          { name: 'Close', icon: 'path://M0 0H36V4H0Z' },
          { name: '20D MA', icon: 'path://M0 0H36V2.2H0Z' },
        ],
        orient: 'vertical',
        left: 116,
        top: 70,
        itemWidth: 36,
        itemHeight: 16,
        itemGap: 6,
        padding: [5, 5, 8, 6],
        backgroundColor: 'rgba(59,66,80,0.95)',
        borderColor: '#566173',
        borderWidth: 1,
        borderRadius: 4,
        textStyle: { color: '#e2e8f0', fontSize: 16, fontFamily: FONT, lineHeight: 16, padding: [0, 0, 0, 7] },
      },
      grid: [
        { left: 108, top: 62, width: 1859, height: 759, show: true, backgroundColor: AX_BG, borderColor: SPINE, borderWidth: 1.5, outerBoundsMode: 'none' },
        { left: 108, top: 848, width: 1859, height: 252, show: true, backgroundColor: AX_BG, borderColor: SPINE, borderWidth: 1.5, outerBoundsMode: 'none' },
      ],
      xAxis: [
        { ...xCommon, gridIndex: 0, axisLabel: { show: false } },
        {
          ...xCommon,
          gridIndex: 1,
          name: 'Date',
          nameLocation: 'middle',
          nameGap: 37,
          nameTextStyle: { color: TICK, fontSize: 18, fontFamily: FONT },
          axisLabel: {
            show: true,
            customValues: tickTs,
            margin: 14,
            color: TICK,
            fontSize: 16,
            fontFamily: FONT,
            formatter: (v: number) => {
              const d = new Date(v);
              return d.getMonth() === 0 ? String(d.getFullYear()) : MONTHS[d.getMonth()];
            },
          },
        },
      ],
      yAxis: [
        {
          type: 'value',
          gridIndex: 0,
          min: 0.0106,
          max: 0.6978,
          name: 'Price (HKD)',
          nameLocation: 'middle',
          nameGap: 50,
          nameTextStyle: { color: TICK, fontSize: 18, fontFamily: FONT },
          axisLine: { show: true, lineStyle: { color: SPINE, width: 1.5 } },
          axisTick: { show: true, customValues: priceTicks, length: 7, lineStyle: { color: TICK, width: 1.5 } },
          axisLabel: {
            customValues: priceTicks,
            margin: 16,
            color: TICK,
            fontSize: 16,
            fontFamily: FONT,
            formatter: (v: number) => v.toFixed(1),
          },
          splitLine: { show: true, lineStyle: { color: GRIDLINE, width: 1 } },
        },
        {
          type: 'value',
          gridIndex: 1,
          min: 0,
          max: 50.8,
          name: 'Volume',
          nameLocation: 'middle',
          nameGap: 76,
          nameTextStyle: { color: TICK, fontSize: 18, fontFamily: FONT },
          axisLine: { show: true, lineStyle: { color: SPINE, width: 1.5 } },
          axisTick: { show: true, customValues: volumeTicks, length: 7, lineStyle: { color: TICK, width: 1.5 } },
          axisLabel: {
            customValues: volumeTicks,
            margin: 16,
            color: TICK,
            fontSize: 16,
            fontFamily: FONT,
            formatter: (v: number) => (v === 0 ? '0K' : v.toFixed(1) + 'M'),
          },
          splitLine: { show: true, lineStyle: { color: GRIDLINE, width: 1 } },
        },
      ],
      series: [
        {
          name: 'RangeLow',
          type: 'line',
          xAxisIndex: 0,
          yAxisIndex: 0,
          data: lowData,
          encode: { x: 1, y: 0 },
          stack: 'range',
          symbol: 'none',
          showSymbol: false,
          silent: true,
          lineStyle: { width: 0, opacity: 0 },
          z: 1,
        },
        {
          name: 'Range',
          type: 'line',
          xAxisIndex: 0,
          yAxisIndex: 0,
          data: spanData,
          encode: { x: 1, y: 0 },
          stack: 'range',
          symbol: 'none',
          showSymbol: false,
          silent: true,
          lineStyle: { width: 0, opacity: 0 },
          areaStyle: { color: 'rgba(100,130,175,0.3)', opacity: 1 },
          z: 1,
        },
        {
          name: 'Close',
          type: 'line',
          xAxisIndex: 0,
          yAxisIndex: 0,
          data: closeData,
          symbol: 'none',
          showSymbol: false,
          lineStyle: { color: BLUE, width: 4, join: 'round', cap: 'round' },
          itemStyle: { color: BLUE },
          z: 3,
        },
        {
          name: '20D MA',
          type: 'line',
          xAxisIndex: 0,
          yAxisIndex: 0,
          data: maData,
          symbol: 'none',
          showSymbol: false,
          lineStyle: { color: ORANGE, width: 2.2, join: 'round' },
          itemStyle: { color: ORANGE },
          z: 4,
        },
        {
          name: 'Last close',
          type: 'scatter',
          xAxisIndex: 0,
          yAxisIndex: 0,
          data: [[ts(last[0]), last[1]]],
          symbolSize: 13,
          itemStyle: { color: '#ffffff', opacity: 1 },
          z: 6,
          label: {
            show: true,
            position: [28, -31],
            formatter: LAST_LABEL,
            color: '#e2e8f0',
            fontSize: 16,
            fontFamily: FONT,
            lineHeight: 17,
            backgroundColor: '#111827',
            borderColor: '#4b5563',
            borderWidth: 1,
            borderRadius: 3,
            padding: [3, 5, 3, 5],
          },
        },
        {
          name: 'Volume',
          type: 'bar',
          xAxisIndex: 1,
          yAxisIndex: 1,
          data: volData,
          barWidth: 2.7,
          z: 2,
        },
      ],
    };

    chart.setOption(option);
    return () => chart.dispose();
  }, []);

  return (
    <div
      ref={ref}
      style={{ position: 'fixed', left: 0, top: 0, width: 2064, height: 1173, background: FIG_BG }}
    />
  );
}
